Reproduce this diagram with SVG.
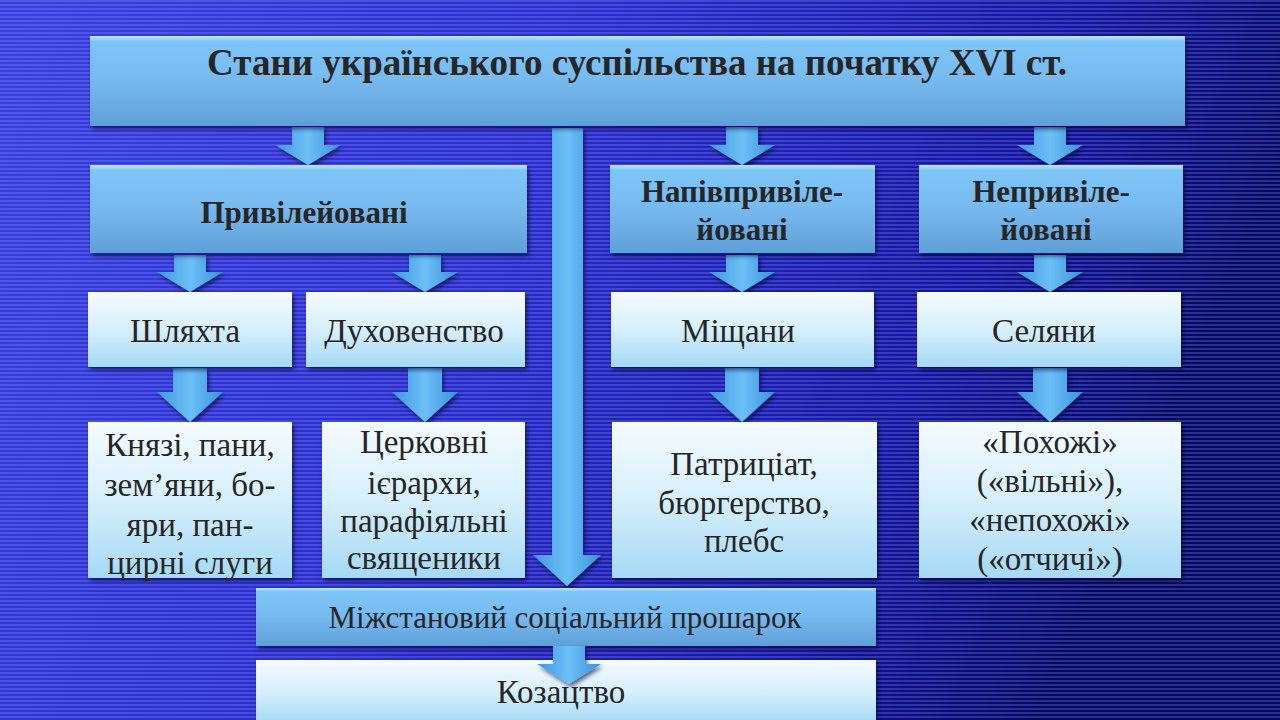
<svg xmlns="http://www.w3.org/2000/svg" width="1280" height="720" viewBox="0 0 1280 720">
<defs>
<linearGradient id="bg" x1="0" y1="0" x2="1" y2="0.25">
<stop offset="0" stop-color="#3b3fe0"/>
<stop offset="0.45" stop-color="#2a2ccc"/>
<stop offset="0.8" stop-color="#1414a0"/>
<stop offset="1" stop-color="#060660"/>
</linearGradient>
<pattern id="stripes" width="8" height="4" patternUnits="userSpaceOnUse">
<rect width="8" height="2" fill="#8c9cff" opacity="0.28"/>
</pattern>
<linearGradient id="dark" x1="0" y1="0" x2="0" y2="1">
<stop offset="0" stop-color="#bfe9ff"/>
<stop offset="0.06" stop-color="#7fc6f8"/>
<stop offset="0.5" stop-color="#76b9ee"/>
<stop offset="1" stop-color="#5f9fd8"/>
</linearGradient>
<linearGradient id="light" x1="0" y1="0" x2="0" y2="1">
<stop offset="0" stop-color="#f4fbff"/>
<stop offset="0.5" stop-color="#d6effc"/>
<stop offset="1" stop-color="#a4d9f5"/>
</linearGradient>
<linearGradient id="arr" x1="0" y1="0" x2="1" y2="0">
<stop offset="0" stop-color="#3f97e0"/>
<stop offset="0.5" stop-color="#6cc0f7"/>
<stop offset="1" stop-color="#3a90dc"/>
</linearGradient>
<filter id="sh" x="-5%" y="-5%" width="115%" height="125%">
<feDropShadow dx="2" dy="3" stdDeviation="2" flood-color="#000030" flood-opacity="0.6"/>
</filter>
<style>
.d{fill:url(#dark);filter:url(#sh)}
.l{fill:url(#light);filter:url(#sh)}
.a{fill:url(#arr);filter:url(#sh)}
text{font-family:"Liberation Serif","Times New Roman",serif;fill:#262626;text-anchor:middle}
.t{font-size:37px;font-weight:bold}
.b{font-size:31px;font-weight:bold}
.r{font-size:33px}
.m{font-size:31px}
</style>
</defs>
<rect width="1280" height="720" fill="url(#bg)"/>
<rect width="1280" height="720" fill="url(#stripes)"/>

<g id="connectors">
<path class="a" d="M552 128H583V555H601L567 586L533 555H552Z"/>
<path class="a" d="M292 127H324V145H341L308 165L275 145H292Z"/>
<path class="a" d="M726 127H758V145H775L742 165L709 145H726Z"/>
<path class="a" d="M1034 127H1066V145H1083L1050 165L1017 145H1034Z"/>
<path class="a" d="M174 255H206V272H223L190 292L157 272H174Z"/>
<path class="a" d="M409 255H441V272H458L425 292L392 272H409Z"/>
<path class="a" d="M726 255H758V272H775L742 292L709 272H726Z"/>
<path class="a" d="M1034 255H1066V272H1083L1050 292L1017 272H1034Z"/>
<path class="a" d="M173 368H207V392H223L190 422L157 392H173Z"/>
<path class="a" d="M408 368H442V392H458L425 422L392 392H408Z"/>
<path class="a" d="M725 368H759V392H775L742 422L709 392H725Z"/>
<path class="a" d="M1033 368H1067V392H1083L1050 422L1017 392H1033Z"/>
</g>

<g id="title"><rect class="d" x="90" y="36" width="1095" height="90"/><text class="t" x="637" y="75">Стани українського суспільства на початку XVI ст.</text></g>

<g id="pryvileiovani"><rect class="d" x="90" y="165" width="437" height="88"/><text class="b" x="304" y="223">Привілейовані</text></g>
<g id="napivpryvileiovani"><rect class="d" x="610" y="165" width="265" height="88"/><text class="b" x="742" y="202">Напівпривіле-</text><text class="b" x="742" y="240">йовані</text></g>
<g id="nepryvileiovani"><rect class="d" x="919" y="165" width="264" height="88"/><text class="b" x="1051" y="202">Непривіле-</text><text class="b" x="1046" y="240">йовані</text></g>

<g id="shliakhta"><rect class="l" x="88" y="292" width="204" height="75"/><text class="r" x="185" y="342">Шляхта</text></g>
<g id="dukhovenstvo"><rect class="l" x="306" y="292" width="219" height="75"/><text class="r" x="414" y="342">Духовенство</text></g>
<g id="mishchany"><rect class="l" x="611" y="292" width="263" height="75"/><text class="r" x="738" y="342">Міщани</text></g>
<g id="seliany"><rect class="l" x="917" y="292" width="264" height="75"/><text class="r" x="1044" y="342">Селяни</text></g>

<g id="kniazi"><rect class="l" x="88" y="422" width="204" height="156"/><text class="r" x="190" y="456">Князі, пани,</text><text class="r" x="190" y="496">зем’яни, бо-</text><text class="r" x="190" y="536">яри, пан-</text><text class="r" x="190" y="574">цирні слуги</text></g>
<g id="tserkovni"><rect class="l" x="322" y="422" width="203" height="156"/><text class="r" x="424" y="453">Церковні</text><text class="r" x="424" y="494">ієрархи,</text><text class="r" x="424" y="532">парафіяльні</text><text class="r" x="424" y="569">священики</text></g>
<g id="patrytsiat"><rect class="l" x="612" y="422" width="265" height="156"/><text class="r" x="744" y="475">Патриціат,</text><text class="r" x="744" y="514">бюргерство,</text><text class="r" x="744" y="552">плебс</text></g>
<g id="pokhozhi"><rect class="l" x="919" y="422" width="262" height="156"/><text class="r" x="1050" y="453">«Похожі»</text><text class="r" x="1050" y="492">(«вільні»),</text><text class="r" x="1050" y="531">«непохожі»</text><text class="r" x="1050" y="570">(«отчичі»)</text></g>

<g id="mizhstanovyi"><rect class="d" x="256" y="588" width="620" height="58"/><text class="m" x="565" y="628">Міжстановий соціальний прошарок</text></g>
<g id="kozatstvo"><rect class="l" x="256" y="660" width="620" height="64"/><text class="r" x="561" y="703">Козацтво</text></g>
<g id="connector-bottom"><path class="a" d="M553 646H585V664H601L569 684L537 664H553Z"/></g>
</svg>
